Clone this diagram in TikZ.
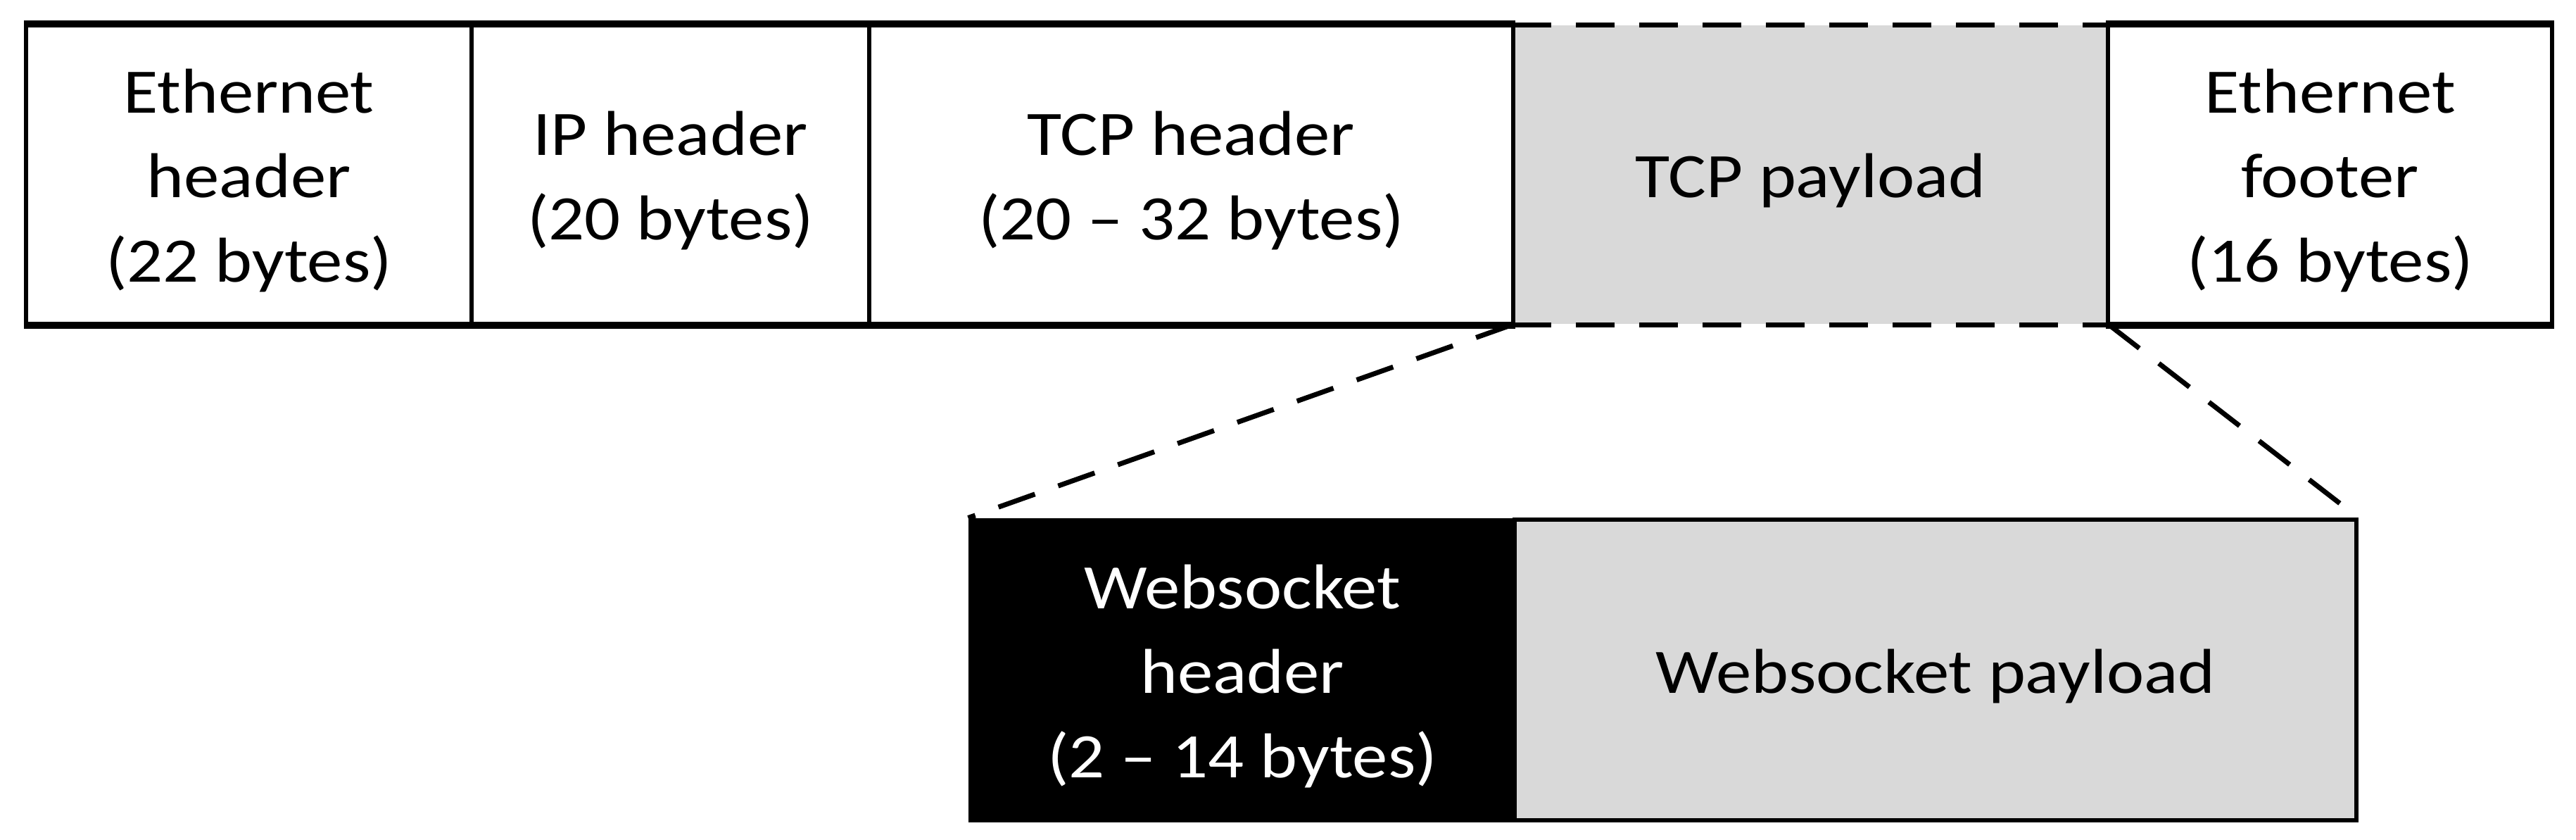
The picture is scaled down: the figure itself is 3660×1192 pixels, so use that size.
\documentclass[tikz,border=0pt]{standalone}
\usepackage{fontspec}
\setmainfont{Carlito}[FakeStretch=1.12]
\definecolor{paygray}{HTML}{D9D9D9}
\begin{document}
\begin{tikzpicture}[x=0.2pt,y=-0.2pt,
  txt/.style={inner sep=0pt,align=center,font=\fontsize{18}{24}\selectfont,yshift=-1.7pt},
  cell/.style={draw=black,line width=1.2pt,fill=white,inner sep=0pt,minimum height=84.8pt},
  paycell/.style={fill=paygray,inner sep=0pt,minimum height=84.8pt},
  dashline/.style={line width=1.4pt,dash pattern=on 11pt off 7pt},
  rule/.style={line width=1.6pt},
  wshstyle/.style={draw=black,fill=black,line width=1pt,inner sep=0pt,minimum height=85.4pt},
  wspstyle/.style={draw=black,fill=paygray,line width=1.1pt,inner sep=0pt,minimum height=85.4pt}]
\useasboundingbox (0,0) rectangle (3660,1192);
\fill[white] (0,0) rectangle (3660,1192);
% top row
\node[paycell,minimum width=169pt,label={[txt]center:TCP payload}] (tcpp) at (2572.5,248) {};
\node[cell,minimum width=126.6pt,label={[txt]center:Ethernet\\header\\(22 bytes)}] (eh) at (353.5,248) {};
\node[cell,minimum width=113pt,label={[txt]center:IP header\\(20 bytes)}] (ip) at (952.5,248) {};
\node[cell,minimum width=183pt,label={[txt]center:TCP header\\(20 – 32 bytes)}] (tcph) at (1692.5,248) {};
\node[cell,minimum width=126.2pt,label={[txt]center:Ethernet\\footer\\(16 bytes)}] (ef) at (3310.5,248) {};
\draw[rule] (eh.north west) -- (tcph.north east);
\draw[rule] (eh.south west) -- (tcph.south east);
\draw[rule] (ef.north west) -- (ef.north east);
\draw[rule] (ef.south west) -- (ef.south east);
\draw[dashline] (tcpp.north west) -- (tcpp.north east);
\draw[dashline] (tcpp.south west) -- (tcpp.south east);
% bottom row
\node[wshstyle,minimum width=154.8pt,label={[txt,text=white]center:Websocket\\header\\(2 – 14 bytes)}] (wsh) at (1765,951.5) {};
\node[wspstyle,minimum width=239.2pt,label={[txt]center:Websocket payload}] (wsp) at (2750,951.5) {};
% zoom connectors
\draw[dashline] (tcpp.south west) -- (wsh.north west);
\draw[dashline] (tcpp.south east) -- (wsp.north east);
\end{tikzpicture}
\end{document}
